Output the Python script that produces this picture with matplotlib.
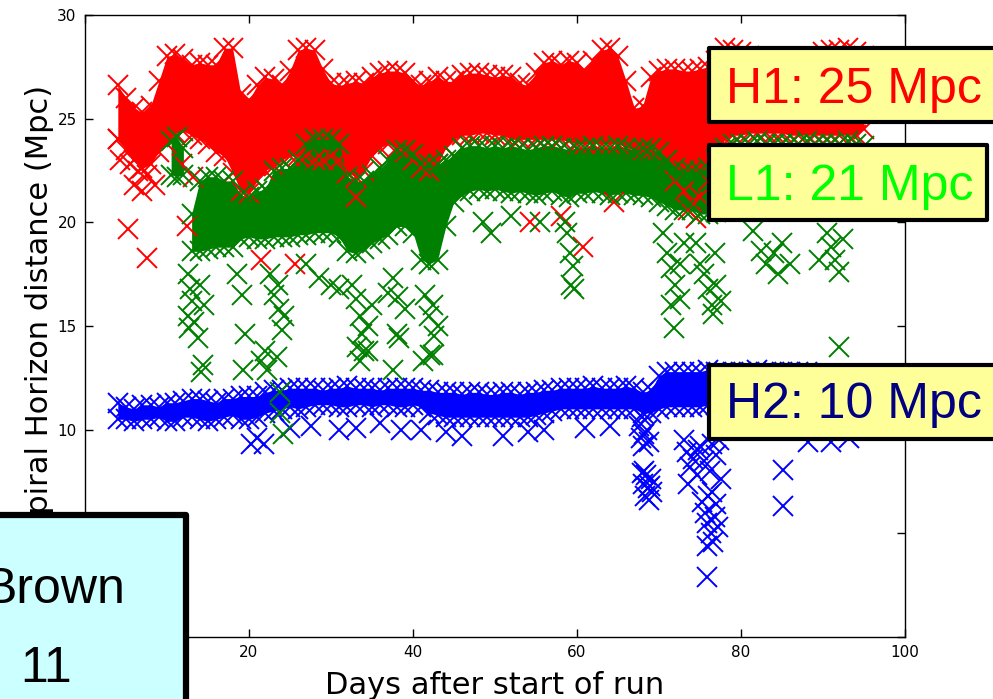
import matplotlib
matplotlib.use("Agg")
import matplotlib.pyplot as plt
from matplotlib.patches import Rectangle

# ---- data ----
# dense band of each detector: day, upper and lower edge (marker centres), Mpc
h1_day = list(range(4, 96))
h1_top = [26.6, 26.0, 25.5, 25.3, 25.6, 26.8, 28.0, 28.1, 27.9, 27.6,
          27.7, 27.6, 27.6, 28.4, 28.4, 26.2, 25.9, 26.6, 27.0, 26.9,
          26.6, 27.3, 28.3, 28.4, 28.3, 27.4, 26.7, 26.6, 26.7, 26.8,
          26.7, 27.0, 27.2, 27.3, 27.3, 27.2, 26.8, 26.6, 26.8, 27.0,
          26.8, 26.8, 27.1, 27.2, 27.2, 27.1, 27.0, 27.1, 27.0, 26.7,
          26.6, 27.2, 27.7, 27.8, 27.6, 27.8, 27.7, 27.3, 27.8, 28.3,
          28.4, 28.0, 26.8, 25.5, 25.6, 27.0, 27.3, 27.4, 27.4, 27.3,
          27.3, 27.4, 27.5, 27.8, 28.4, 28.3, 28.2, 28.0, 27.6, 27.2,
          27.0, 27.2, 27.3, 27.2, 27.2, 27.5, 28.2, 28.3, 28.3, 28.4,
          28.2, 28.0]
h1_bot = [24.0, 23.5, 23.0, 22.6, 22.8, 23.4, 23.8, 24.3, 24.4, 24.2,
          24.0, 23.8, 23.4, 23.2, 22.4, 21.5, 21.4, 22.0, 22.5, 22.7,
          23.0, 23.2, 23.2, 23.2, 23.0, 23.0, 23.2, 23.0, 22.4, 22.2,
          22.5, 23.2, 23.6, 23.8, 23.6, 23.4, 23.0, 22.6, 22.5, 22.8,
          23.6, 24.0, 24.2, 24.2, 24.3, 24.3, 24.2, 24.2, 24.0, 24.0,
          24.0, 24.0, 24.0, 24.0, 24.0, 23.9, 23.8, 23.8, 23.8, 23.8,
          23.8, 23.8, 23.6, 23.5, 23.5, 23.5, 23.5, 23.0, 22.0, 21.5,
          21.0, 21.2, 22.0, 23.0, 24.0, 24.2, 24.2, 24.3, 24.3, 24.3,
          24.3, 24.3, 24.2, 24.2, 24.2, 24.2, 24.2, 24.2, 24.2, 24.2,
          24.2, 24.5]
h1_sx = [4.0, 4.3, 5.5, 6.0, 6.5, 7.0, 7.5, 8.5, 5.2, 7.6, 12.4, 21.5,
         25.6, 33.0, 54.3, 58.0, 60.7, 64.5, 73.5, 74.5, 11.8, 13.2]
h1_sy = [24.0, 23.0, 22.8, 21.8, 22.5, 21.5, 22.3, 21.8, 19.7, 18.3, 19.8, 18.2,
         18.0, 21.2, 20.0, 20.3, 18.8, 21.0, 20.6, 20.2, 22.8, 22.2]

# L1: small early blob, then the main band
l1b_day = [10.5, 11.2, 12.0]
l1b_top = [23.9, 24.1, 23.6]
l1b_bot = [22.3, 22.2, 22.3]

l1_day = list(range(13, 96))
l1_top = [20.4, 22.0, 22.2, 22.2, 22.0, 22.0, 21.3, 21.2,
          21.5, 21.6, 22.5, 22.6, 22.6, 23.0, 23.8, 24.0, 24.0, 24.0,
          23.8, 22.2, 22.0, 22.0, 22.3, 22.6, 23.0, 23.5, 23.5, 23.3,
          22.8, 22.8, 22.8, 23.0, 23.2, 23.6, 23.7, 23.7, 23.6, 23.7,
          23.6, 23.7, 23.6, 23.5, 23.6, 23.7, 23.7, 23.6, 23.5, 23.6,
          23.6, 23.7, 23.6, 23.6, 23.7, 23.6, 23.5, 23.6, 23.6, 23.4,
          23.0, 22.6, 22.5, 22.5, 22.5, 22.6, 23.0, 23.6, 23.8, 23.8,
          23.8, 23.9, 23.8, 23.8, 23.8, 23.8, 23.8, 23.9, 23.8, 23.8,
          23.8, 23.8, 23.9, 23.8, 23.7]
l1_bot = [18.6, 18.6, 18.7, 18.8, 18.8, 18.8, 19.2, 19.3,
          19.2, 19.2, 19.3, 19.3, 19.3, 19.4, 19.4, 19.5, 19.5, 19.5,
          19.3, 18.6, 18.5, 18.7, 19.0, 19.2, 19.4, 19.8, 19.8, 19.5,
          18.2, 18.0, 18.2, 19.8, 21.0, 21.3, 21.5, 21.6, 21.5, 21.6,
          21.5, 21.4, 21.5, 21.4, 21.3, 21.4, 21.5, 21.3, 21.2, 21.4,
          21.4, 21.5, 21.4, 21.3, 21.4, 21.4, 21.3, 21.3, 21.2, 21.0,
          20.8, 20.6, 20.6, 20.6, 20.4, 20.4, 20.5, 20.8, 21.0, 21.0,
          21.0, 21.0, 21.0, 21.0, 21.0, 21.0, 21.0, 21.0, 21.0, 21.0,
          21.0, 21.0, 21.0, 21.0, 21.0]
l1_sx = [12.6, 12.8, 13.0, 12.5, 12.7, 13.3, 13.8, 14.4, 14.0, 14.5, 14.2,
         19.2, 19.5, 19.3, 18.5,
         22.5, 23.0, 23.6, 24.3, 24.0, 23.5, 22.2, 23.4, 23.8, 23.8, 24.2, 21.5, 22.0,
         27.0, 28.5, 30.0, 31.0,
         32.5, 33.0, 33.5, 33.8, 34.0, 34.5, 35.0, 33.2, 33.5, 34.5,
         37.0, 38.0, 37.5, 39.0, 38.2, 38.3, 37.5,
         41.5, 42.0, 42.5, 43.0, 42.1, 42.6, 41.2, 42.5,
         48.5, 49.5, 52.0, 55.5,
         58.8, 59.2, 59.5, 59.3, 59.6, 58.5,
         70.5, 71.0, 71.5, 72.0, 71.5, 71.8, 72.5, 73.0, 72.6,
         74.5, 75.0, 75.5, 76.0, 76.5, 76.6, 77.0, 77.5, 76.8,
         81.5, 82.5, 83.0, 84.0, 84.5, 85.0, 86.0,
         89.5, 90.5, 91.0, 91.5, 92.0, 92.5, 91.9]
l1_sy = [17.5, 16.8, 16.2, 15.5, 14.9, 15.2, 14.4, 13.1, 17.0, 16.0, 12.8,
         16.5, 14.6, 12.9, 17.5,
         17.5, 16.5, 15.8, 15.5, 14.8, 17.0, 12.9, 13.5, 11.8, 10.8, 9.8, 13.3, 13.8,
         18.0, 17.3, 17.0, 16.8,
         17.0, 16.3, 15.5, 14.6, 13.8, 15.0, 16.0, 14.0, 13.3, 13.8,
         16.6, 14.6, 17.3, 15.8, 16.4, 14.4, 12.9,
         16.5, 15.5, 16.0, 15.0, 13.6, 14.5, 13.3, 13.6,
         20.0, 19.5, 20.3, 20.0,
         19.5, 18.5, 17.9, 17.0, 16.8, 20.0,
         19.5, 18.5, 17.8, 17.0, 16.0, 14.9, 18.0, 19.0, 16.3,
         19.0, 18.0, 17.5, 16.8, 16.0, 15.6, 17.0, 16.2, 18.5,
         19.6, 18.6, 18.0, 18.5, 17.5, 19.0, 18.0,
         18.2, 19.5, 18.8, 18.2, 17.6, 19.2, 14.0]

h2_day = list(range(4, 96))
h2_top = [11.3, 11.1, 11.0, 11.2, 11.2, 11.1, 11.3, 11.3, 11.4, 11.5,
          11.5, 11.4, 11.3, 11.5, 11.5, 11.6, 11.6, 11.6, 11.8, 11.9,
          11.9, 12.0, 12.0, 12.0, 12.0, 11.9, 12.0, 12.0, 12.1, 12.0,
          12.0, 12.0, 11.9, 12.0, 12.0, 12.0, 12.0, 11.9, 11.9, 11.8,
          11.8, 11.8, 11.7, 11.8, 11.8, 11.7, 11.7, 11.8, 11.8, 11.7,
          11.8, 11.8, 11.9, 11.9, 12.0, 12.0, 12.0, 12.0, 12.1, 12.0,
          12.0, 12.0, 12.1, 12.0, 11.8, 11.9, 12.6, 12.8, 12.8, 12.8,
          12.8, 12.8, 12.9, 12.8, 12.8, 12.8, 12.8, 12.8, 12.9, 12.8,
          12.8, 12.8, 12.8, 12.8, 12.8, 12.6, 12.5, 12.5, 12.5, 12.5,
          12.5, 12.4]
h2_bot = [10.5, 10.5, 10.4, 10.5, 10.5, 10.6, 10.4, 10.4, 10.6, 10.6,
          10.5, 10.4, 10.5, 10.6, 10.7, 10.5, 10.5, 10.6, 10.8, 10.9,
          11.0, 11.1, 11.0, 11.1, 11.2, 11.2, 11.2, 11.1, 11.1, 11.2,
          11.2, 11.1, 11.2, 11.2, 11.1, 11.1, 11.2, 11.1, 10.8, 10.7,
          10.6, 10.6, 10.6, 10.6, 10.6, 10.6, 10.6, 10.6, 10.6, 10.6,
          10.6, 10.7, 10.8, 10.9, 11.0, 11.0, 11.0, 11.0, 11.0, 11.0,
          11.0, 11.0, 11.0, 11.0, 10.8, 10.8, 11.0, 11.1, 11.1, 11.1,
          11.1, 11.1, 11.2, 11.2, 11.2, 11.2, 11.2, 11.2, 11.2, 11.2,
          11.2, 11.2, 11.2, 11.2, 11.2, 11.1, 11.0, 11.0, 11.0, 11.0,
          11.0, 11.0]
h2_sx = [20.3, 21.0, 21.8, 25.0, 27.5, 31.0, 33.0, 36.0, 38.5, 41.0, 44.0, 46.0,
         51.0, 54.0, 56.0, 61.0, 64.0,
         67.6, 67.8, 68.0, 68.2, 67.9, 68.5, 68.8,
         67.9, 68.1, 68.3, 68.4, 68.6, 68.8, 69.0, 69.2, 68.2, 68.9,
         73.0, 73.4, 73.8, 73.5, 74.2, 74.6, 75.0, 74.8, 75.5, 76.2, 77.0, 77.6,
         77.3, 76.5, 75.2, 75.6, 75.9, 76.3, 76.6, 75.8, 76.8, 77.0, 76.5, 77.2,
         76.0, 75.9,
         85.1, 85.1, 88.2, 91.0, 93.2]
h2_sy = [9.3, 9.6, 9.3, 10.1, 10.2, 10.0, 10.1, 10.3, 10.0, 10.0, 9.9, 9.7,
         9.7, 9.9, 10.0, 10.1, 10.2,
         10.2, 9.6, 9.2, 9.8, 10.6, 10.0, 9.4,
         7.9, 7.4, 6.8, 7.8, 7.2, 6.6, 7.6, 7.0, 8.0, 7.3,
         9.5, 8.9, 8.2, 7.4, 8.6, 7.8, 9.2, 9.0, 8.5, 8.0, 8.8, 7.6,
         9.5, 9.3, 6.5, 6.0, 5.5, 5.0, 4.6, 4.4, 5.8, 6.4, 7.0, 5.3,
         6.8, 2.9,
         8.05, 6.3, 9.4, 9.4, 9.6]

W, H = 993, 699


def px_rect(x0, y0, x1, y1):
    # pixel box (origin top-left) -> figure fraction
    return (x0 / W, 1 - y1 / H), (x1 - x0) / W, (y1 - y0) / H


fig = plt.figure(figsize=(W / 100, H / 100), dpi=100)
ax = fig.add_axes([85 / W, 1 - 637 / H, 820 / W, 622 / H])

mk = dict(linestyle="none", marker="x", ms=14.5, mew=1.4)
bands = [
    (h1_day, h1_top, h1_bot, h1_sx, h1_sy, "#ff0000"),
    (h2_day, h2_top, h2_bot, h2_sx, h2_sy, "#0000ff"),
    (l1b_day, l1b_top, l1b_bot, [], [], "#008000"),
    (l1_day, l1_top, l1_bot, l1_sx, l1_sy, "#008000"),
]
for day, top, bot, sx, sy, c in bands:
    ax.fill_between(day, bot, top, color=c, lw=0)
    ax.plot(day, top, color=c, **mk)
    ax.plot(day, bot, color=c, **mk)
    ax.plot(sx, sy, color=c, **mk)

ax.set_xlim(0, 100)
ax.set_ylim(0, 30)
ax.set_xticks(range(0, 101, 20))
ax.set_yticks(range(0, 31, 5))
ax.tick_params(direction="in", length=6, width=1, top=True, right=True,
               labelsize=11, pad=6)
for s in ax.spines.values():
    s.set_linewidth(1.0)

ax.set_xlabel("Days after start of run", fontsize=22)
ax.xaxis.set_label_coords(0.5, -0.0547)
ax.set_ylabel("Inspiral Horizon distance (Mpc)", fontsize=22)
ax.yaxis.set_label_coords(-0.038, 0.507)

# annotation boxes laid over the plot
boxes = [
    (709, 48, 1010, 122, "#ffff99", 3),
    (709, 145, 987, 220, "#ffff99", 3),
    (709, 365, 1010, 439, "#ffff99", 3),
    (-20, 515, 186, 720, "#ccffff", 4.5),
]
for x0, y0, x1, y1, fc, lw in boxes:
    xy, w, h = px_rect(x0, y0, x1, y1)
    fig.add_artist(Rectangle(xy, w, h, transform=fig.transFigure, fc=fc,
                             ec="black", lw=lw, joinstyle="round", clip_on=False))

big = dict(fontsize=36, family="Liberation Sans", va="baseline")
fig.text(726 / W, 1 - 103 / H, "H1: 25 Mpc", color="#ff0000", ha="left", **big)
fig.text(726 / W, 1 - 200 / H, "L1: 21 Mpc", color="#00ff00", ha="left", **big)
fig.text(726 / W, 1 - 418 / H, "H2: 10 Mpc", color="#000080", ha="left", **big)
fig.text(126 / W, 1 - 603 / H, "Brown", color="black", ha="right", **big)
fig.text(72 / W, 1 - 682 / H, "11", color="black", ha="right", **big)

fig.savefig("out.png", dpi=100)
